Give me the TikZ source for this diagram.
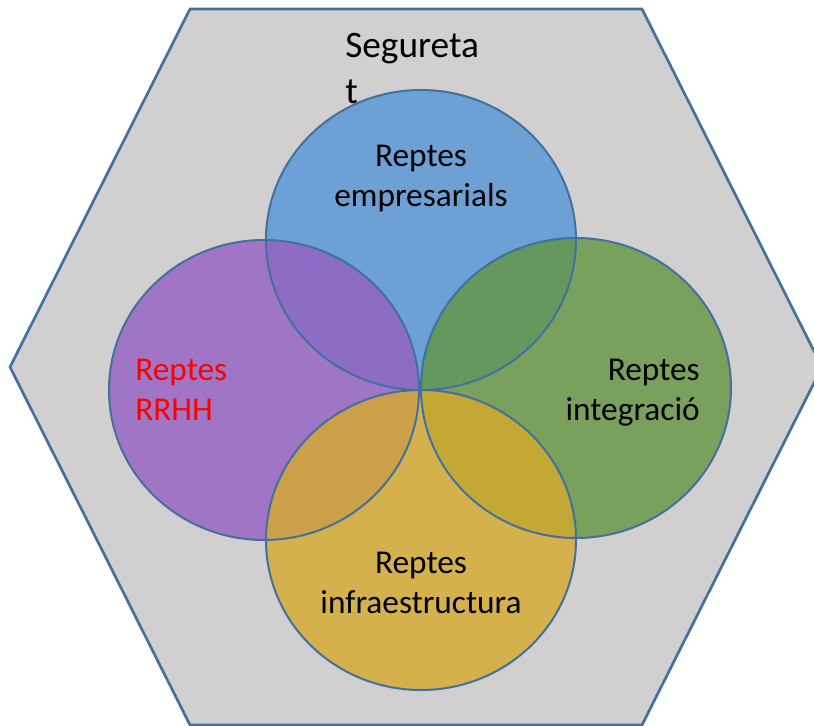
\documentclass[tikz,border=0pt]{standalone}
\usepackage{fontspec}
\setmainfont{Carlito}
\definecolor{edge}{RGB}{65,113,156}
\definecolor{hexfill}{RGB}{209,207,207}
\definecolor{cblue}{RGB}{85,150,215}
\definecolor{cpurple}{RGB}{150,95,195}
\definecolor{cgreen}{RGB}{100,150,65}
\definecolor{cyellow}{RGB}{215,170,45}
\tikzset{
  venn/.style={fill opacity=0.8},
  vline/.style={draw=edge, line width=1.5pt},
  lbl/.style={font=\fontsize{25}{30}\selectfont, inner sep=0pt}
}
\begin{document}
\begin{tikzpicture}[x=0.75pt,y=-0.75pt]
\useasboundingbox (0,0) rectangle (814,725);
\draw[edge, line width=2pt, fill=hexfill, line join=miter]
  (190,9) -- (642,9) -- (822,367) -- (642,725) -- (190,725) -- (10,367) -- cycle;
\fill[venn, fill=cblue] (421,240) ellipse [x radius=116.25pt, y radius=112.5pt];
\fill[venn, fill=cpurple] (264,390) ellipse [x radius=116.25pt, y radius=112.5pt];
\fill[venn, fill=cgreen] (576,388) ellipse [x radius=116.25pt, y radius=112.5pt];
\fill[venn, fill=cyellow] (421,540) ellipse [x radius=116.25pt, y radius=112.5pt];
\draw[vline] (421,240) ellipse [x radius=116.25pt, y radius=112.5pt];
\draw[vline] (264,390) ellipse [x radius=116.25pt, y radius=112.5pt];
\draw[vline] (576,388) ellipse [x radius=116.25pt, y radius=112.5pt];
\draw[vline] (421,540) ellipse [x radius=116.25pt, y radius=112.5pt];
\node[lbl, anchor=base west, align=left, font=\fontsize{28}{34}\selectfont] (seg) at (345,103) {Segureta\\t};
\node[lbl, anchor=base, align=center] (emp) at (421,206) {Reptes\\empresarials};
\node[lbl, anchor=base west, align=left, text=red] (rrhh) at (135,420) {Reptes\\RRHH};
\node[lbl, anchor=base east, align=right] (integ) at (700,420) {Reptes\\integració};
\node[lbl, anchor=base, align=center] (infra) at (421,613) {Reptes\\infraestructura};
\end{tikzpicture}
\end{document}
